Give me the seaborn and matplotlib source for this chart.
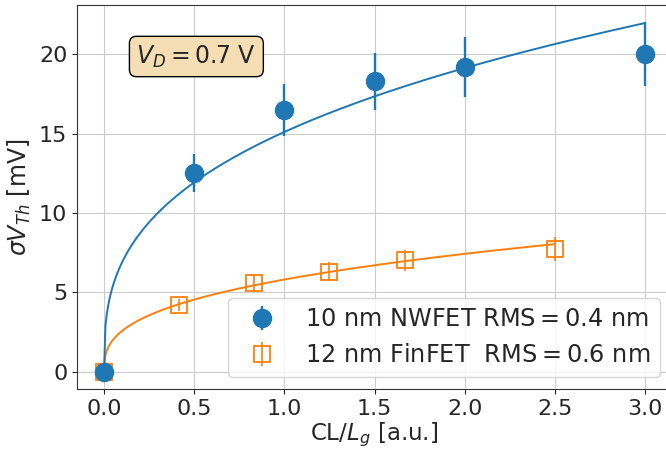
import numpy as np
import pandas as pd
import matplotlib
matplotlib.use("Agg")
import matplotlib.pyplot as plt
import seaborn as sns

# Correlation length normalised to gate length, and sigma V_Th in mV
nw_cl = [0.0, 0.5, 1.0, 1.5, 2.0, 3.0]
nw_sigma = [0.0, 12.5, 16.5, 18.3, 19.2, 20.0]
nw_err = [0.0, 1.2, 1.65, 1.8, 1.9, 2.0]

fin_cl = [0.0, 5 / 12, 5 / 6, 5 / 4, 5 / 3, 5 / 2]
fin_sigma = [0.0, 4.2, 5.6, 6.3, 7.0, 7.7]
fin_err = [0.0, 0.4, 0.55, 0.6, 0.67, 0.76]

# Power-law model sigma = a * (CL/Lg)^b for each device
nw_fit = (15.1, 0.341)
fin_fit = (5.8, 0.355)

nw_label = r"10 nm NWFET RMS$=$0.4 nm"
fin_label = r"12 nm FinFET  RMS$=$0.6 nm"
xticks = [0.0, 0.5, 1.0, 1.5, 2.0, 2.5, 3.0]
yticks = [0, 5, 10, 15, 20]

TICK_FS = 16
TEXT_FS = 17

sns.set_style("ticks", {"axes.grid": True, "grid.color": ".8",
                        "axes.edgecolor": ".2"})
plt.rcParams["font.family"] = ["DejaVu Sans"]
plt.rcParams["mathtext.fontset"] = "dejavusans"

blue = "#1f77b4"
orange = "#ff7f0e"

fig = plt.figure(figsize=(6.66, 4.53), dpi=100)
ax = fig.add_axes([77 / 666, 1 - 389 / 453, (672 - 77) / 666, (389 - 5) / 453])

# Model curves
def model_frame(a, b, xmax):
    x = np.linspace(0.0, xmax, 400)
    return pd.DataFrame({"x": x, "y": a * x ** b})

sns.lineplot(data=model_frame(*fin_fit, max(fin_cl)), x="x", y="y",
             color=orange, lw=1.4, ax=ax, zorder=2)
sns.lineplot(data=model_frame(*nw_fit, max(nw_cl)), x="x", y="y",
             color=blue, lw=1.4, ax=ax, zorder=2)

# Simulated points with error bars
h_fin = ax.errorbar(fin_cl, fin_sigma, yerr=fin_err, fmt="s", ms=12,
                    mfc="none", mec=orange, mew=1.3, color=orange,
                    elinewidth=1.2, label=fin_label, zorder=3)
h_nw = ax.errorbar(nw_cl, nw_sigma, yerr=nw_err, fmt="o", ms=13,
                   color=blue, elinewidth=1.7, label=nw_label, zorder=4)

ax.set_xlim(-0.15, 3.15)
ax.set_ylim(-1.1, 23.1)
ax.set_xticks(xticks)
ax.set_yticks(yticks)
ax.tick_params(labelsize=TICK_FS)
ax.set_xlabel(r"CL/$L_g$ [a.u.]", fontsize=TEXT_FS - 0.5, labelpad=1)
ax.set_ylabel(r"$\sigma V_{Th}$ [mV]", fontsize=TEXT_FS)

leg = ax.legend([h_nw, h_fin], [nw_label, fin_label], loc="lower right",
                fontsize=TEXT_FS + 0.3)
leg.get_frame().set_edgecolor("0.8")

ax.text(0.10, 0.90, r"$V_D = 0.7$ V", transform=ax.transAxes,
        fontsize=TEXT_FS, va="top", ha="left",
        bbox=dict(boxstyle="round", facecolor="wheat", edgecolor="black",
                  alpha=1.0))

fig.savefig("out.png", dpi=100)
